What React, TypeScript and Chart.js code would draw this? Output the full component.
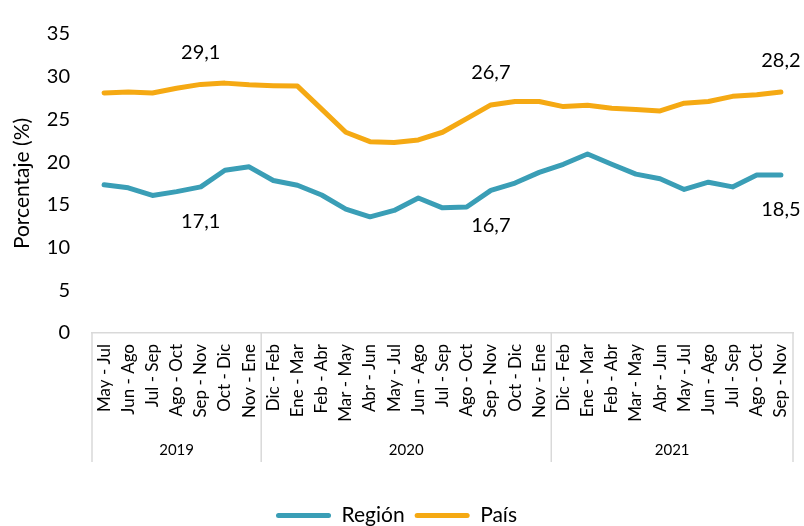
import { useEffect, useRef } from 'react';
import { Chart, registerables } from 'chart.js';

Chart.register(...registerables);

const categories = [
  'May - Jul', 'Jun - Ago', 'Jul - Sep', 'Ago - Oct', 'Sep - Nov', 'Oct - Dic', 'Nov - Ene',
  'Dic - Feb', 'Ene - Mar', 'Feb - Abr', 'Mar - May', 'Abr - Jun', 'May - Jul', 'Jun - Ago',
  'Jul - Sep', 'Ago - Oct', 'Sep - Nov', 'Oct - Dic', 'Nov - Ene',
  'Dic - Feb', 'Ene - Mar', 'Feb - Abr', 'Mar - May', 'Abr - Jun', 'May - Jul', 'Jun - Ago',
  'Jul - Sep', 'Ago - Oct', 'Sep - Nov',
];
const yearLabels = ['2019', '2020', '2021'];
const yearCounts = [7, 12, 10];

const regionValues = [
  17.35, 17.0, 16.1, 16.55, 17.1, 19.05, 19.45,
  17.85, 17.3, 16.15, 14.5, 13.6, 14.35, 15.8, 14.65, 14.75, 16.7, 17.55, 18.8,
  19.75, 20.95, 19.75, 18.6, 18.05, 16.8, 17.65, 17.1, 18.5, 18.5,
];
const paisValues = [
  28.1, 28.2, 28.1, 28.65, 29.1, 29.25, 29.05,
  28.95, 28.9, 26.2, 23.5, 22.4, 22.3, 22.6, 23.5, 25.1, 26.7, 27.1, 27.1,
  26.5, 26.65, 26.3, 26.15, 26.0, 26.9, 27.1, 27.7, 27.9, 28.2,
];
const labeledIndices = [4, 16, 28];
const yMin = 0;
const yMax = 35;
const yStep = 5;

const FONT = 'Lato, "Open Sans", sans-serif';
const TEAL = '#3A9EB6';
const ORANGE = '#F5A913';
const AXIS_GRAY = '#D9D9D9';

const fmt = (v: number) => v.toFixed(1).replace('.', ',');

const groupPlugin = {
  id: 'yearGroups',
  afterDraw(chart: any) {
    const xs = chart.scales.x;
    const ctx = chart.ctx;
    const top = xs.top;
    const bottom = top + 129;
    const step = xs.getPixelForValue(1) - xs.getPixelForValue(0);
    ctx.save();
    ctx.strokeStyle = AXIS_GRAY;
    ctx.lineWidth = 1.5;
    let start = 0;
    const edges: number[] = [xs.getPixelForValue(0) - step / 2];
    yearCounts.forEach((c) => {
      const end = start + c - 1;
      edges.push(xs.getPixelForValue(end) + step / 2);
      start += c;
    });
    edges.forEach((e) => {
      ctx.beginPath();
      ctx.moveTo(e, top);
      ctx.lineTo(e, bottom);
      ctx.stroke();
    });
    ctx.fillStyle = '#000';
    ctx.font = `15px ${FONT}`;
    ctx.textAlign = 'center';
    ctx.textBaseline = 'middle';
    yearLabels.forEach((lab, i) => {
      ctx.fillText(lab, (edges[i] + edges[i + 1]) / 2, top + 117);
    });
    ctx.restore();
  },
};

const dataLabelPlugin = {
  id: 'pointLabels',
  afterDatasetsDraw(chart: any) {
    const ctx = chart.ctx;
    ctx.save();
    ctx.font = `20px ${FONT}`;
    ctx.fillStyle = '#000';
    ctx.textAlign = 'center';
    ctx.textBaseline = 'middle';
    chart.data.datasets.forEach((ds: any, di: number) => {
      const meta = chart.getDatasetMeta(di);
      labeledIndices.forEach((idx) => {
        const pt = meta.data[idx];
        const off = di === 0 ? 35 : -32;
        ctx.fillText(fmt(ds.data[idx]), pt.x, pt.y + off);
      });
    });
    ctx.restore();
  },
};

export default function App() {
  const ref = useRef<HTMLCanvasElement>(null);

  useEffect(() => {
    document.body.style.margin = '0';
    const canvas = ref.current!;
    const chart = new Chart(canvas, {
      type: 'line',
      data: {
        labels: categories,
        datasets: [
          {
            label: 'Región',
            data: regionValues,
            borderColor: TEAL,
            backgroundColor: TEAL,
            borderWidth: 5,
            pointRadius: 0,
            tension: 0,
            borderJoinStyle: 'round',
            borderCapStyle: 'round',
          },
          {
            label: 'País',
            data: paisValues,
            borderColor: ORANGE,
            backgroundColor: ORANGE,
            borderWidth: 5,
            pointRadius: 0,
            tension: 0,
            borderJoinStyle: 'round',
            borderCapStyle: 'round',
          },
        ],
      },
      options: {
        responsive: false,
        animation: false,
        devicePixelRatio: 1,
        layout: { padding: { top: 22, right: 11, bottom: -10, left: 0 } },
        plugins: {
          tooltip: { enabled: false },
          legend: {
            position: 'bottom',
            labels: {
              boxWidth: 55,
              boxHeight: 5,
              useBorderRadius: true,
              borderRadius: 2.5,
              color: '#000',
              font: { family: FONT, size: 21 },
              padding: 10,
              generateLabels: (chart: any) =>
                chart.data.datasets.map((ds: any, i: number) => ({
                  text: ds.label,
                  fillStyle: ds.borderColor,
                  strokeStyle: ds.borderColor,
                  lineWidth: 0,
                  fontColor: '#000',
                  borderRadius: 2.5,
                  datasetIndex: i,
                  hidden: false,
                })),
            },
          },
        },
        scales: {
          x: {
            type: 'category',
            offset: true,
            grid: { display: false, drawTicks: false, offset: true },
            border: { display: true, color: AXIS_GRAY, width: 1.5 },
            ticks: {
              autoSkip: false,
              minRotation: 90,
              maxRotation: 90,
              padding: 11,
              color: '#000',
              font: { family: FONT, size: 17 },
            },
            afterFit: (scale: any) => {
              scale.height = 162;
              scale.paddingLeft = 0;
              scale.paddingRight = 0;
            },
          },
          y: {
            min: yMin,
            max: yMax,
            grid: { display: false, drawTicks: false },
            border: { display: false },
            ticks: {
              stepSize: yStep,
              padding: 22,
              color: '#000',
              font: { family: FONT, size: 20 },
            },
            title: {
              display: true,
              text: 'Porcentaje (%)',
              color: '#000',
              font: { family: FONT, size: 21 },
              padding: { top: 10, bottom: 0 },
            },
            afterFit: (scale: any) => {
              scale.width = 92;
            },
          },
        },
      },
      plugins: [groupPlugin, dataLabelPlugin],
    });
    return () => chart.destroy();
  }, []);

  return (
    <div style={{ position: 'absolute', left: 0, top: 0, width: 804, height: 526 }}>
      <canvas ref={ref} width={804} height={526} style={{ display: 'block' }} />
    </div>
  );
}
